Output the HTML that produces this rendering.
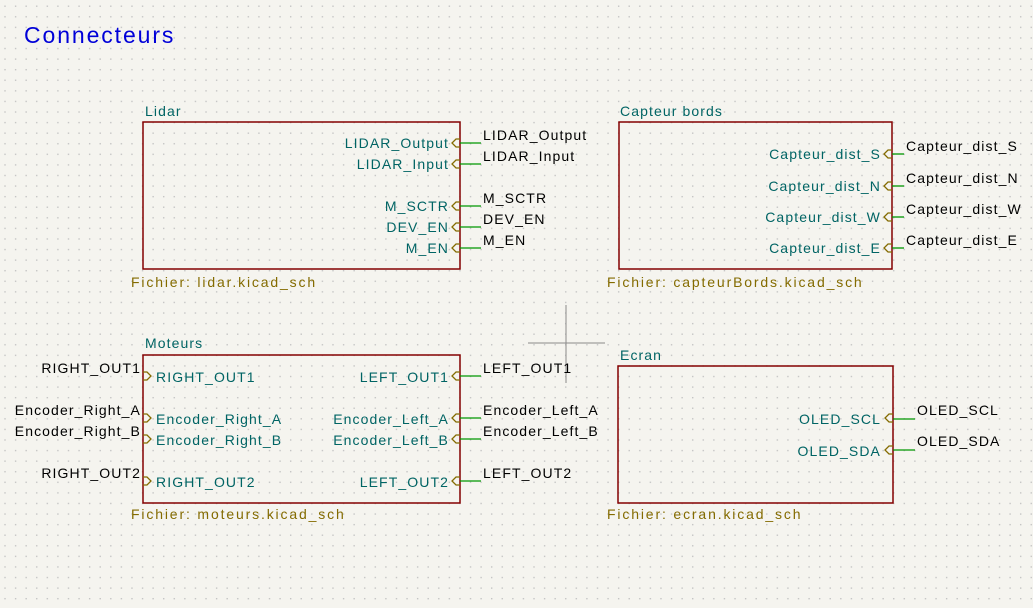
<!DOCTYPE html>
<html><head><meta charset="utf-8"><style>
html,body{margin:0;padding:0;background:#f5f4ef;}
svg{display:block}
text{font-family:"Liberation Sans",sans-serif;font-size:14px;letter-spacing:1.1px}
.p{fill:#006464}.n{fill:#000}.f{fill:#846b00;letter-spacing:1.85px}.t{fill:#006464}
.box{fill:none;stroke:#840000;stroke-width:1.5}
.w{stroke:#009600;stroke-width:1.3}
.pin{fill:none;stroke:#846b00;stroke-width:1.3}
</style></head><body>
<svg width="1033" height="608" xmlns="http://www.w3.org/2000/svg">
<defs><pattern id="g" x="0" y="1.2" width="10.58" height="10.58" patternUnits="userSpaceOnUse"><rect x="4.3" y="4.3" width="1.4" height="1.4" fill="#c4c4c4"/></pattern></defs>
<rect width="1033" height="608" fill="#f5f4ef"/>
<rect width="1033" height="608" fill="url(#g)"/>
<text x="24" y="43" style="font-size:23px;letter-spacing:1.9px;fill:#0000d8">Connecteurs</text>

<line x1="528" y1="343" x2="605" y2="343" stroke="#8a8a8a" stroke-width="1"/>
<line x1="566" y1="305" x2="566" y2="383" stroke="#8a8a8a" stroke-width="1"/>

<!-- Lidar -->
<rect class="box" x="143" y="122" width="317" height="147"/>
<text class="t" x="145" y="116">Lidar</text>
<text class="f" x="131" y="287">Fichier: lidar.kicad_sch</text>
<polyline class="pin" points="460,139 456,139 452,143 456,147 460,147"/>
<polyline class="pin" points="460,160 456,160 452,164 456,168 460,168"/>
<polyline class="pin" points="460,202 456,202 452,206 456,210 460,210"/>
<polyline class="pin" points="460,223 456,223 452,227 456,231 460,231"/>
<polyline class="pin" points="460,244 456,244 452,248 456,252 460,252"/>
<line class="w" x1="460" y1="143" x2="481" y2="143"/>
<line class="w" x1="460" y1="164" x2="481" y2="164"/>
<line class="w" x1="460" y1="206" x2="481" y2="206"/>
<line class="w" x1="460" y1="227" x2="481" y2="227"/>
<line class="w" x1="460" y1="248" x2="481" y2="248"/>
<text class="p" x="449" y="148" text-anchor="end">LIDAR_Output</text>
<text class="p" x="449" y="169" text-anchor="end">LIDAR_Input</text>
<text class="p" x="449" y="211" text-anchor="end">M_SCTR</text>
<text class="p" x="449" y="232" text-anchor="end">DEV_EN</text>
<text class="p" x="449" y="253" text-anchor="end">M_EN</text>
<text class="n" x="483" y="140">LIDAR_Output</text>
<text class="n" x="483" y="161">LIDAR_Input</text>
<text class="n" x="483" y="203">M_SCTR</text>
<text class="n" x="483" y="224">DEV_EN</text>
<text class="n" x="483" y="245">M_EN</text>

<!-- Capteur bords -->
<rect class="box" x="619" y="122" width="273" height="147"/>
<text class="t" x="620" y="116">Capteur bords</text>
<text class="f" x="607" y="287">Fichier: capteurBords.kicad_sch</text>
<polyline class="pin" points="892,150 888,150 884,154 888,158 892,158"/>
<polyline class="pin" points="892,182 888,182 884,186 888,190 892,190"/>
<polyline class="pin" points="892,213 888,213 884,217 888,221 892,221"/>
<polyline class="pin" points="892,244 888,244 884,248 888,252 892,252"/>
<line class="w" x1="892" y1="154" x2="904" y2="154"/>
<line class="w" x1="892" y1="186" x2="904" y2="186"/>
<line class="w" x1="892" y1="217" x2="904" y2="217"/>
<line class="w" x1="892" y1="248" x2="904" y2="248"/>
<text class="p" x="881" y="159" text-anchor="end">Capteur_dist_S</text>
<text class="p" x="881" y="191" text-anchor="end">Capteur_dist_N</text>
<text class="p" x="881" y="222" text-anchor="end">Capteur_dist_W</text>
<text class="p" x="881" y="253" text-anchor="end">Capteur_dist_E</text>
<text class="n" x="906" y="151">Capteur_dist_S</text>
<text class="n" x="906" y="183">Capteur_dist_N</text>
<text class="n" x="906" y="214">Capteur_dist_W</text>
<text class="n" x="906" y="245">Capteur_dist_E</text>

<!-- Moteurs -->
<rect class="box" x="143" y="355" width="317" height="148"/>
<text class="t" x="145" y="348">Moteurs</text>
<text class="f" x="131" y="519">Fichier: moteurs.kicad_sch</text>
<polyline class="pin" points="143,372 147,372 151,376 147,380 143,380"/>
<polyline class="pin" points="143,414 147,414 151,418 147,422 143,422"/>
<polyline class="pin" points="143,435 147,435 151,439 147,443 143,443"/>
<polyline class="pin" points="143,477 147,477 151,481 147,485 143,485"/>
<text class="p" x="156" y="382">RIGHT_OUT1</text>
<text class="p" x="156" y="424">Encoder_Right_A</text>
<text class="p" x="156" y="445">Encoder_Right_B</text>
<text class="p" x="156" y="487">RIGHT_OUT2</text>
<text class="n" x="141" y="373" text-anchor="end">RIGHT_OUT1</text>
<text class="n" x="141" y="415" text-anchor="end">Encoder_Right_A</text>
<text class="n" x="141" y="436" text-anchor="end">Encoder_Right_B</text>
<text class="n" x="141" y="478" text-anchor="end">RIGHT_OUT2</text>
<polyline class="pin" points="460,372 456,372 452,376 456,380 460,380"/>
<polyline class="pin" points="460,414 456,414 452,418 456,422 460,422"/>
<polyline class="pin" points="460,435 456,435 452,439 456,443 460,443"/>
<polyline class="pin" points="460,477 456,477 452,481 456,485 460,485"/>
<line class="w" x1="460" y1="376" x2="481" y2="376"/>
<line class="w" x1="460" y1="418" x2="481" y2="418"/>
<line class="w" x1="460" y1="439" x2="481" y2="439"/>
<line class="w" x1="460" y1="481" x2="481" y2="481"/>
<text class="p" x="449" y="382" text-anchor="end">LEFT_OUT1</text>
<text class="p" x="449" y="424" text-anchor="end">Encoder_Left_A</text>
<text class="p" x="449" y="445" text-anchor="end">Encoder_Left_B</text>
<text class="p" x="449" y="487" text-anchor="end">LEFT_OUT2</text>
<text class="n" x="483" y="373">LEFT_OUT1</text>
<text class="n" x="483" y="415">Encoder_Left_A</text>
<text class="n" x="483" y="436">Encoder_Left_B</text>
<text class="n" x="483" y="478">LEFT_OUT2</text>

<!-- Ecran -->
<rect class="box" x="618" y="366" width="275" height="137"/>
<text class="t" x="620" y="360">Ecran</text>
<text class="f" x="607" y="519">Fichier: ecran.kicad_sch</text>
<polyline class="pin" points="893,414 889,414 885,418 889,422 893,422"/>
<polyline class="pin" points="893,446 889,446 885,450 889,454 893,454"/>
<line class="w" x1="893" y1="419" x2="915" y2="419"/>
<line class="w" x1="893" y1="450" x2="915" y2="450"/>
<text class="p" x="881" y="424" text-anchor="end">OLED_SCL</text>
<text class="p" x="881" y="456" text-anchor="end">OLED_SDA</text>
<text class="n" x="917" y="415">OLED_SCL</text>
<text class="n" x="917" y="446">OLED_SDA</text>
</svg>
</body></html>
